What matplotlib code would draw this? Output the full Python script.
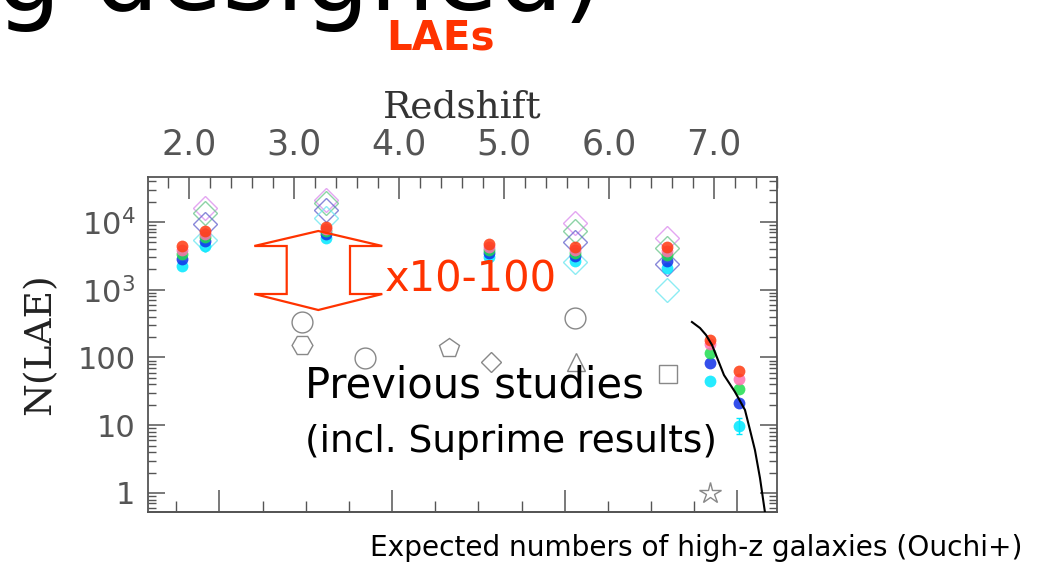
import matplotlib
matplotlib.use("Agg")
import matplotlib.pyplot as plt
from matplotlib.patches import Polygon
from matplotlib.ticker import FixedLocator, MultipleLocator, NullFormatter, LogLocator
import numpy as np

W, H = 1038, 563

# --- survey columns (redshift of each narrow-band sample) ---
z_cols = [1.93, 2.15, 3.30, 4.86, 5.68, 6.55, 6.96, 7.24]

# expected LAE numbers, filled circles (one list per survey depth)
n_red = [4430, 7370, 8440, 4730, 4280, 4280, 181, 63]
n_pink = [3860, 6650, 7880, 4280, 3860, 3730, 158, 48]
n_green = [3370, 6010, 7370, 3860, 3490, 3260, 117, 34]
n_blue = [2840, 5250, 6650, 3490, 3150, 2660, 83, 21]
n_cyan = [2240, 4430, 5800, 3040, 2660, 2090, 45, 9.8]

# open diamonds
z_diam = [2.15, 3.30, 5.68, 6.55]
d_pink = [16100, 21100, 9670, 5800]
d_green = [13600, 19000, 7370, 4130]
d_blue = [9340, 15000, 5070, 2400]
d_cyan = [5400, 11400, 2570, 990]

# previous studies
prev_z = [3.076, 3.076, 3.676, 4.476, 4.876, 5.686, 5.676, 6.562, 6.962]
prev_n = [334, 153, 98, 138, 86, 86, 383, 58, 1.0]
prev_marker = ["o", "H", "o", "p", "D", "^", "o", "s", "*"]

# model curve
line_z = [6.79, 6.867, 6.924, 6.981, 7.038, 7.095, 7.2, 7.295, 7.343, 7.39, 7.438, 7.486]
line_n = [334, 272, 215, 153, 92, 55, 31, 16.8, 8.5, 4.3, 1.66, 0.51]

z_ticks = [2.0, 3.0, 4.0, 5.0, 6.0, 7.0]
y_ticks = [1, 10, 100, 1000, 10000]
y_labels = ["1", "10", "100", r"$10^3$", r"$10^4$"]

LYA = 1216.0

fig = plt.figure(figsize=(W / 100, H / 100), dpi=100)
fig.patch.set_facecolor("white")


def px(x, y):
    return x / W, 1 - y / H


ax = fig.add_axes([148 / W, 1 - 512 / H, (777 - 148) / W, (512 - 177) / H])
ax.set_yscale("log")
ax.set_xlim(1.6095, 7.6)
ax.set_ylim(0.524, 46130)

frame_c = "#555555"
tick_txt = "#555555"
for s in ax.spines.values():
    s.set_color(frame_c)
    s.set_linewidth(1.3)

# filled circles
circ_cols = [("#00e8ff", n_cyan), ("#1030e8", n_blue), ("#20dd50", n_green),
             ("#ff70b0", n_pink), ("#ff3a10", n_red)]
for c, vals in circ_cols:
    ax.plot(z_cols, vals, "o", ms=8.5, color=c, mec="none", alpha=0.85, zorder=4)
ax.errorbar([z_cols[-1]], [n_cyan[-1]], yerr=[[2.5], [3.0]], fmt="none",
            ecolor="#00e8ff", elinewidth=1, capsize=2, zorder=3)

# open diamonds
diam_cols = [("#dd90ee", d_pink), ("#70c890", d_green), ("#6a6ad0", d_blue),
             ("#70e8f0", d_cyan)]
for c, vals in diam_cols:
    ax.plot(z_diam, vals, "D", ms=12.5, mfc="none", mec=c, mew=1.0, alpha=0.8, zorder=3)

# previous studies
for z, n, m in zip(prev_z, prev_n, prev_marker):
    size = 15 if m in ("o", "H", "p") else 13
    if m == "D":
        size = 10
    if m == "*":
        size = 16
    ax.plot([z], [n], m, ms=size, mfc="none", mec="#888888", mew=1.0, zorder=3)

ax.plot(line_z, line_n, "-", color="black", lw=1.5, zorder=5, clip_on=True)

# top axis: redshift
ax.xaxis.set_ticks_position("top")
ax.xaxis.set_label_position("top")
ax.xaxis.set_major_locator(FixedLocator(z_ticks))
ax.xaxis.set_minor_locator(MultipleLocator(0.2))
ax.set_xticklabels([f"{z:.1f}" for z in z_ticks])
ax.tick_params(axis="x", which="major", direction="in", length=16, width=1.1,
               color=frame_c, pad=11, labelsize=25, labelcolor=tick_txt)
ax.tick_params(axis="x", which="minor", direction="in", length=8, width=1.0,
               color=frame_c)
ax.set_xlabel("Redshift", family="DejaVu Serif", fontsize=27, color="#333333",
              labelpad=7)

# bottom axis: observed wavelength of Lyman alpha
sec = ax.secondary_xaxis("bottom", functions=(lambda z: LYA * (1 + z),
                                              lambda lam: lam / LYA - 1))
sec.xaxis.set_major_locator(MultipleLocator(2000))
sec.xaxis.set_minor_locator(MultipleLocator(500))
sec.xaxis.set_major_formatter(NullFormatter())
sec.tick_params(axis="x", which="major", direction="in", length=16, width=1.1,
                color=frame_c)
sec.tick_params(axis="x", which="minor", direction="in", length=8, width=1.0,
                color=frame_c)
sec.spines["bottom"].set_color(frame_c)
sec.spines["bottom"].set_linewidth(1.3)

# y axis
ax.yaxis.set_major_locator(FixedLocator(y_ticks))
ax.yaxis.set_minor_locator(LogLocator(base=10, subs=np.arange(2, 10)))
ax.yaxis.set_minor_formatter(NullFormatter())
ax.set_yticklabels(y_labels)
ax.tick_params(axis="y", which="major", direction="in", length=12, width=1.1,
               color=frame_c, right=True, pad=9, labelsize=22, labelcolor=tick_txt)
ax.tick_params(axis="y", which="minor", direction="in", length=6, width=1.0,
               color=frame_c, right=True)
ax.set_ylabel("N(LAE)", family="DejaVu Serif", fontsize=27, color="#222222",
              labelpad=14)

# bracket-arrow annotation
shape = [(254.3, 246), (318.3, 231), (382.3, 246), (350, 246), (350, 294),
         (382.3, 294), (318.3, 310), (254.3, 294), (286.7, 294), (286.7, 246)]
fig.patches.append(Polygon([px(x, y) for x, y in shape], closed=True, fill=False,
                           edgecolor="#ff3300", lw=1.6, transform=fig.transFigure,
                           figure=fig, zorder=10))

red = "#ff3300"
fig.text(*px(385, 292), "x10-100", color=red, fontsize=30, va="baseline", ha="left",
         zorder=11)
fig.text(*px(305, 398), "Previous studies", color="black", fontsize=30,
         va="baseline", ha="left", zorder=11)
fig.text(*px(305, 452), "(incl. Suprime results)", color="black", fontsize=27,
         va="baseline", ha="left", zorder=11)
fig.text(*px(370, 556), "Expected numbers of high-z galaxies (Ouchi+)", color="black",
         fontsize=20.2, va="baseline", ha="left")
fig.text(*px(441, 49), "LAEs", color=red, fontsize=29, fontweight="bold",
         va="baseline", ha="center")
fig.text(*px(-4, 10), "g designed)", color="black", fontsize=74, va="baseline",
         ha="left")

fig.savefig("out.png", dpi=100, facecolor="white")
